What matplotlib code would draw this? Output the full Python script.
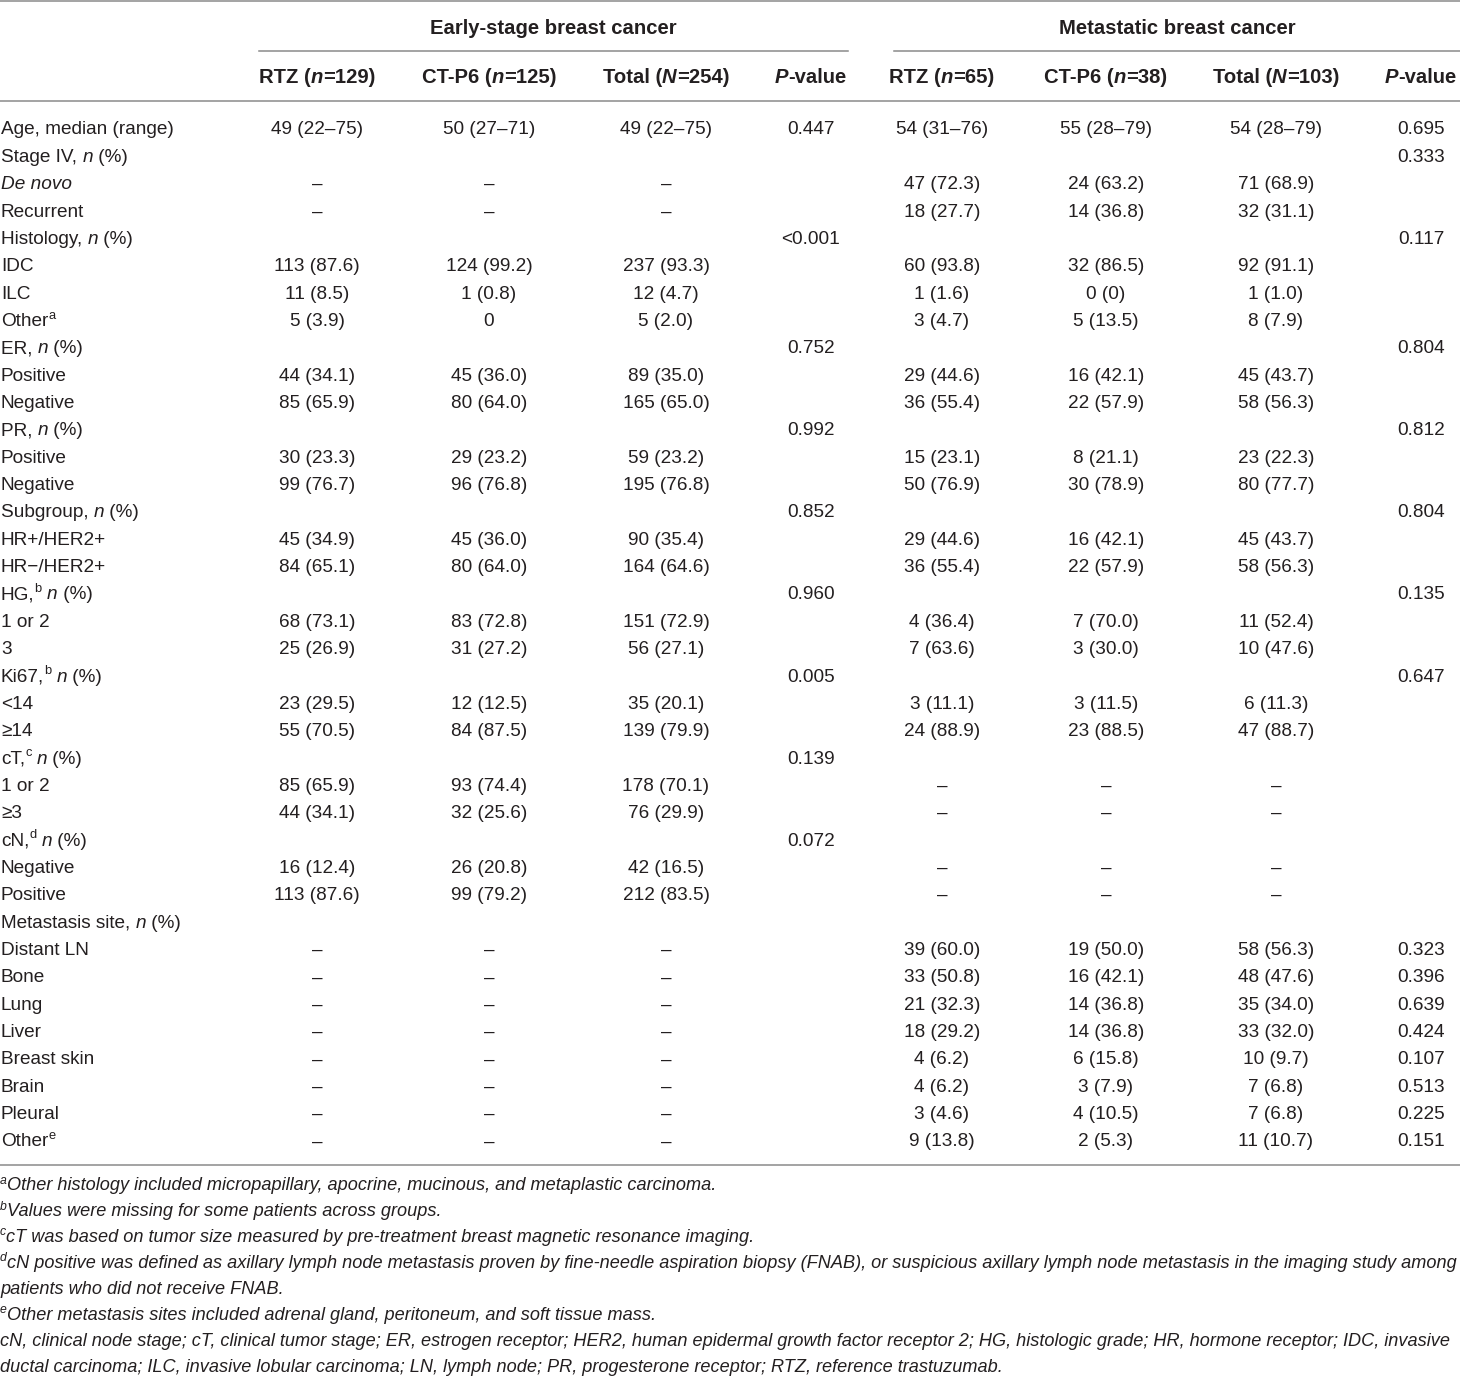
import matplotlib
matplotlib.use("Agg")
import matplotlib.pyplot as plt

# Tabla: características basales (cáncer de mama temprano y metastásico)
group_titles = ["Early-stage breast cancer", "Metastatic breast cancer"]
col_headers = ["RTZ (*n*=129)", "CT-P6 (*n*=125)", "Total (*N*=254)", "*P*-value",
               "RTZ (*n*=65)", "CT-P6 (*n*=38)", "Total (*N*=103)", "*P*-value"]

row_labels = [
    "Age, median (range)", "Stage IV, *n* (%)", "*De novo*", "Recurrent",
    "Histology, *n* (%)", "IDC", "ILC", "Other^a^",
    "ER, *n* (%)", "Positive", "Negative",
    "PR, *n* (%)", "Positive", "Negative",
    "Subgroup, *n* (%)", "HR+/HER2+", "HR\u2212/HER2+",
    "HG,^b^ *n* (%)", "1 or 2", "3",
    "Ki67,^b^ *n* (%)", "<14", "\u226514",
    "cT,^c^ *n* (%)", "1 or 2", "\u22653",
    "cN,^d^ *n* (%)", "Negative", "Positive",
    "Metastasis site, *n* (%)", "Distant LN", "Bone", "Lung", "Liver",
    "Breast skin", "Brain", "Pleural", "Other^e^",
]

D = "\u2013"
early_rtz = ["49 (22\u201375)", "", D, D, "", "113 (87.6)", "11 (8.5)", "5 (3.9)",
             "", "44 (34.1)", "85 (65.9)", "", "30 (23.3)", "99 (76.7)",
             "", "45 (34.9)", "84 (65.1)", "", "68 (73.1)", "25 (26.9)",
             "", "23 (29.5)", "55 (70.5)", "", "85 (65.9)", "44 (34.1)",
             "", "16 (12.4)", "113 (87.6)", "", D, D, D, D, D, D, D, D]
early_ctp6 = ["50 (27\u201371)", "", D, D, "", "124 (99.2)", "1 (0.8)", "0",
              "", "45 (36.0)", "80 (64.0)", "", "29 (23.2)", "96 (76.8)",
              "", "45 (36.0)", "80 (64.0)", "", "83 (72.8)", "31 (27.2)",
              "", "12 (12.5)", "84 (87.5)", "", "93 (74.4)", "32 (25.6)",
              "", "26 (20.8)", "99 (79.2)", "", D, D, D, D, D, D, D, D]
early_total = ["49 (22\u201375)", "", D, D, "", "237 (93.3)", "12 (4.7)", "5 (2.0)",
               "", "89 (35.0)", "165 (65.0)", "", "59 (23.2)", "195 (76.8)",
               "", "90 (35.4)", "164 (64.6)", "", "151 (72.9)", "56 (27.1)",
               "", "35 (20.1)", "139 (79.9)", "", "178 (70.1)", "76 (29.9)",
               "", "42 (16.5)", "212 (83.5)", "", D, D, D, D, D, D, D, D]
early_p = ["0.447", "", "", "", "<0.001", "", "", "",
           "0.752", "", "", "0.992", "", "",
           "0.852", "", "", "0.960", "", "",
           "0.005", "", "", "0.139", "", "",
           "0.072", "", "", "", "", "", "", "", "", "", "", ""]
meta_rtz = ["54 (31\u201376)", "", "47 (72.3)", "18 (27.7)", "", "60 (93.8)", "1 (1.6)", "3 (4.7)",
            "", "29 (44.6)", "36 (55.4)", "", "15 (23.1)", "50 (76.9)",
            "", "29 (44.6)", "36 (55.4)", "", "4 (36.4)", "7 (63.6)",
            "", "3 (11.1)", "24 (88.9)", "", D, D,
            "", D, D, "", "39 (60.0)", "33 (50.8)", "21 (32.3)", "18 (29.2)",
            "4 (6.2)", "4 (6.2)", "3 (4.6)", "9 (13.8)"]
meta_ctp6 = ["55 (28\u201379)", "", "24 (63.2)", "14 (36.8)", "", "32 (86.5)", "0 (0)", "5 (13.5)",
             "", "16 (42.1)", "22 (57.9)", "", "8 (21.1)", "30 (78.9)",
             "", "16 (42.1)", "22 (57.9)", "", "7 (70.0)", "3 (30.0)",
             "", "3 (11.5)", "23 (88.5)", "", D, D,
             "", D, D, "", "19 (50.0)", "16 (42.1)", "14 (36.8)", "14 (36.8)",
             "6 (15.8)", "3 (7.9)", "4 (10.5)", "2 (5.3)"]
meta_total = ["54 (28\u201379)", "", "71 (68.9)", "32 (31.1)", "", "92 (91.1)", "1 (1.0)", "8 (7.9)",
              "", "45 (43.7)", "58 (56.3)", "", "23 (22.3)", "80 (77.7)",
              "", "45 (43.7)", "58 (56.3)", "", "11 (52.4)", "10 (47.6)",
              "", "6 (11.3)", "47 (88.7)", "", D, D,
              "", D, D, "", "58 (56.3)", "48 (47.6)", "35 (34.0)", "33 (32.0)",
              "10 (9.7)", "7 (6.8)", "7 (6.8)", "11 (10.7)"]
meta_p = ["0.695", "0.333", "", "", "0.117", "", "", "",
          "0.804", "", "", "0.812", "", "",
          "0.804", "", "", "0.135", "", "",
          "0.647", "", "", "", "", "",
          "", "", "", "", "0.323", "0.396", "0.639", "0.424",
          "0.107", "0.513", "0.225", "0.151"]

footnotes = [
    "^a^Other histology included micropapillary, apocrine, mucinous, and metaplastic carcinoma.",
    "^b^Values were missing for some patients across groups.",
    "^c^cT was based on tumor size measured by pre-treatment breast magnetic resonance imaging.",
    "^d^cN positive was defined as axillary lymph node metastasis proven by fine-needle aspiration biopsy (FNAB), or suspicious axillary lymph node metastasis in the imaging study among",
    "patients who did not receive FNAB.",
    "^e^Other metastasis sites included adrenal gland, peritoneum, and soft tissue mass.",
    "cN, clinical node stage; cT, clinical tumor stage; ER, estrogen receptor; HER2, human epidermal growth factor receptor 2; HG, histologic grade; HR, hormone receptor; IDC, invasive",
    "ductal carcinoma; ILC, invasive lobular carcinoma; LN, lymph node; PR, progesterone receptor; RTZ, reference trastuzumab.",
]

FONT = "Liberation Sans"
FS = 13.7
FS_HEAD = 14.6
FS_NOTE = 13.05
TXT = "#231f20"
LINE = "#8a8a8a"

fig = plt.figure(figsize=(14.6, 13.78), dpi=100)
ax = fig.add_axes([0, 0, 1, 1])
ax.set_xlim(0, 1460)
ax.set_ylim(1378, 0)
ax.axis("off")
renderer = fig.canvas.get_renderer()


def parse(markup):
    # divide el texto en tramos: *cursiva*, ^superíndice^
    runs, buf, it, sup = [], "", False, False
    for ch in markup:
        if ch in "*^":
            if buf:
                runs.append((buf, it, sup))
            buf = ""
            if ch == "*":
                it = not it
            else:
                sup = not sup
        else:
            buf += ch
    if buf:
        runs.append((buf, it, sup))
    return runs


def width(s, size, weight, style):
    t = ax.text(0, 0, "|" + s + "|", fontsize=size, fontweight=weight,
                fontstyle=style, family=FONT)
    w1 = t.get_window_extent(renderer).width
    t.set_text("||")
    w0 = t.get_window_extent(renderer).width
    t.remove()
    return w1 - w0


def rich(x, y, markup, ha="left", size=FS, bold=False, italic=False):
    weight = "bold" if bold else "normal"
    pieces = []
    for s, it, sup in parse(markup):
        style = "italic" if (it != italic) else "normal"
        sz = size * 0.68 if sup else size
        pieces.append((s, style, sz, sup, width(s, sz, weight, style)))
    total = sum(p[4] for p in pieces)
    x0 = x if ha == "left" else (x - total / 2 if ha == "center" else x - total)
    for s, style, sz, sup, w in pieces:
        dy = -size * 100 / 72 * 0.38 if sup else 0
        ax.text(x0, y + dy, s, fontsize=sz, fontweight=weight, fontstyle=style,
                family=FONT, color=TXT, ha="left", va="baseline")
        x0 += w


# líneas horizontales
ax.plot([0, 1460], [1, 1], color=LINE, lw=1.1)
ax.plot([259, 848], [51, 51], color=LINE, lw=1.1)
ax.plot([894, 1460], [51, 51], color=LINE, lw=1.1)
ax.plot([0, 1460], [101, 101], color=LINE, lw=1.1)
ax.plot([0, 1460], [1165, 1165], color=LINE, lw=1.1)

# encabezados
rich(553, 34, group_titles[0], ha="center", size=FS_HEAD, bold=True)
rich(1177, 34, group_titles[1], ha="center", size=FS_HEAD, bold=True)
col_x = [317, 489, 666, 811, 942, 1106, 1276, 1421]
for cx, h in zip(col_x, col_headers):
    rich(cx, 83, h, ha="center", size=FS_HEAD, bold=True)

# cuerpo
columns = [early_rtz, early_ctp6, early_total, early_p,
           meta_rtz, meta_ctp6, meta_total, meta_p]
y0, step = 134.5, 27.35
for i, lab in enumerate(row_labels):
    y = y0 + i * step
    rich(1, y, lab)
    for cx, col in zip(col_x, columns):
        if col[i]:
            rich(cx, y, col[i], ha="center")

# notas al pie
for j, note in enumerate(footnotes):
    rich(0, 1190.5 + j * 25.9, note, size=FS_NOTE, italic=True)

fig.savefig("out.png", dpi=100, facecolor="white")
